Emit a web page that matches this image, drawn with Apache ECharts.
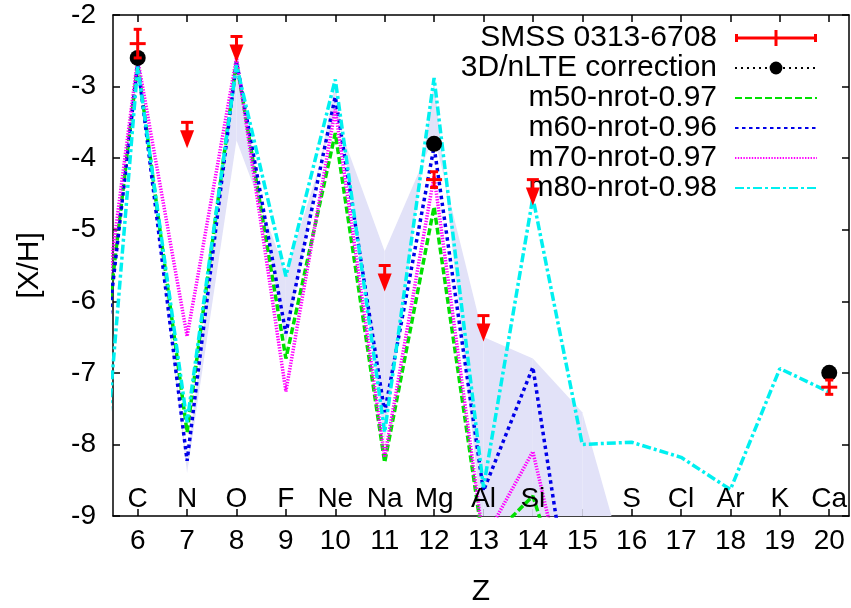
<!DOCTYPE html>
<html>
<head>
<meta charset="utf-8">
<script src="https://cdn.jsdelivr.net/npm/echarts@6/dist/echarts.min.js"></script>
<style>
html, body { margin: 0; padding: 0; background: #fff; }
#chart { width: 851px; height: 608px; }
</style>
</head>
<body>
<div id="chart"></div>
<script>
// Tick positions (atomic number Z) and the element shown above each tick
const zTicks = [6, 7, 8, 9, 10, 11, 12, 13, 14, 15, 16, 17, 18, 19, 20];
const elements = ['C', 'N', 'O', 'F', 'Ne', 'Na', 'Mg', 'Al', 'Si', '', 'S', 'Cl', 'Ar', 'K', 'Ca'];

// Model yields [X/H] per atomic number
const modelZ = [5, 6, 7, 8, 9, 10, 11, 12, 13, 14, 15];
const m50 = [-8.62, -2.68, -7.83, -2.65, -6.80, -3.65, -8.25, -4.68, -9.41, -8.72, -10.9];
const m60 = [-8.80, -2.68, -8.23, -2.65, -6.45, -3.14, -7.55, -3.84, -8.65, -6.92, -11.37];
const m70 = [-7.94, -2.62, -6.49, -2.60, -7.26, -3.32, -8.18, -4.25, -9.35, -8.10, -11.06];
const m80Z = [5, 6, 7, 8, 9, 10, 11, 12, 13, 14, 15, 16, 17, 18, 19, 20];
const m80 = [-11.1, -2.72, -7.69, -2.70, -5.65, -2.90, -7.83, -2.88, -8.60, -4.55, -8.00, -7.97, -8.18, -8.63, -6.94, -7.27];

// Shaded band between two bounding curves
const bandZ = [5, 6, 7, 8, 9, 10, 11, 12, 13, 14, 15, 16];
const bandA = [-8.70, -2.65, -8.25, -2.60, -6.60, -2.95, -7.95, -2.90, -9.30, -10.0, -11.0, -12.0];
const bandB = [-8.70, -2.70, -8.40, -3.75, -5.60, -3.40, -5.30, -3.70, -6.50, -6.80, -7.55, -10.0];

// SMSS 0313-6708 abundances: value, error, upper-limit flag
const obsZ = [6, 7, 8, 11, 12, 13, 14, 20];
const obsVal = [-2.40, -3.50, -2.30, -5.50, -4.30, -6.20, -4.30, -7.20];
const obsErr = [0.20, 0, 0, 0, 0.11, 0, 0, 0.10];
const obsLimit = [0, 1, 1, 1, 0, 1, 1, 0];

// 3D/nLTE corrected values
const corrZ = [6, 12, 20];
const corrVal = [-2.60, -3.80, -7.00];

const FONT = '"Liberation Sans", Arial, Helvetica, sans-serif';
const RED = '#ff0000';

const pairs = (xs, ys) => xs.map((x, i) => [x, ys[i]]);

const bandData = bandZ.slice(0, -1).map((z, i) => [z, bandA[i], bandB[i], bandZ[i + 1], bandA[i + 1], bandB[i + 1]]);
const obsData = obsZ.map((z, i) => [z, obsVal[i], obsErr[i], obsLimit[i]]);
const corrData = [];
corrZ.forEach((z, i) => { corrData.push([z, corrVal[i]]); corrData.push([z, null]); });

function renderBand(params, api) {
  const p1 = api.coord([api.value(0), api.value(1)]);
  const p2 = api.coord([api.value(3), api.value(4)]);
  const p3 = api.coord([api.value(3), api.value(5)]);
  const p4 = api.coord([api.value(0), api.value(2)]);
  return {
    type: 'polygon',
    shape: { points: [p1, p2, p3, p4] },
    style: { fill: '#e2e2f8', stroke: null }
  };
}

function renderObs(params, api) {
  const z = api.value(0), v = api.value(1), e = api.value(2), lim = api.value(3);
  const p = api.coord([z, v]);
  const x = p[0], y = p[1];
  if (lim) {
    return {
      type: 'group',
      children: [
        { type: 'rect', shape: { x: x - 6, y: y - 1.5, width: 12, height: 3 }, style: { fill: RED } },
        { type: 'rect', shape: { x: x - 1.5, y: y, width: 3, height: 12 }, style: { fill: RED } },
        { type: 'polygon', shape: { points: [[x - 7, y + 8], [x + 7, y + 8], [x, y + 26]] }, style: { fill: RED } }
      ]
    };
  }
  const top = api.coord([z, v + e])[1];
  const bot = api.coord([z, v - e])[1];
  const ln = (x1, y1, x2, y2) => ({ type: 'line', shape: { x1, y1, x2, y2 }, style: { stroke: RED, lineWidth: 3 } });
  return {
    type: 'group',
    children: [
      ln(x, top, x, bot),
      ln(x - 4, top, x + 4, top),
      ln(x - 4, bot, x + 4, bot),
      ln(x - 8, y, x + 8, y)
    ]
  };
}

const axisLineStyle = { color: '#000', width: 1.5 };
const xBase = { type: 'value', min: 5.5, max: 20.4, splitLine: { show: false } };
const yBase = { type: 'value', min: -9, max: -2, interval: 1, splitLine: { show: false } };

const modelLine = (name, z, vals, color, dash, zlevel) => ({
  name, type: 'line', data: pairs(z, vals), symbol: 'none', clip: true, z: zlevel,
  lineStyle: { color, width: 3.5, type: dash, cap: 'butt' },
  itemStyle: { color }
});

const chart = echarts.init(document.getElementById('chart'), null, { renderer: 'canvas' });
chart.setOption({
  animation: false,
  backgroundColor: '#fff',
  textStyle: { fontFamily: FONT },
  grid: { left: 113, right: 2, top: 15, bottom: 92, containLabel: false, outerBoundsMode: 'none' },
  legend: {
    orient: 'vertical', right: 28, top: 18, align: 'right',
    itemWidth: 82, itemHeight: 16, itemGap: 0,
    textStyle: { fontSize: 30, color: '#000', fontFamily: FONT, lineHeight: 30, padding: [0, 13, 0, 0] },
    data: [
      { name: 'SMSS 0313-6708', icon: 'path://M0,4h3v8h-3zM79,4h3v8h-3zM0,6.5h82v3h-82zM39.5,0h3v16h-3z' },
      { name: '3D/nLTE correction' },
      { name: 'm50-nrot-0.97', itemStyle: { opacity: 0 } },
      { name: 'm60-nrot-0.96', itemStyle: { opacity: 0 } },
      { name: 'm70-nrot-0.97', itemStyle: { opacity: 0 } },
      { name: 'm80-nrot-0.98', itemStyle: { opacity: 0 } }
    ]
  },
  xAxis: [
    Object.assign({}, xBase, {
      position: 'bottom',
      axisLine: { lineStyle: axisLineStyle },
      axisTick: { inside: true, length: 7, customValues: zTicks, lineStyle: axisLineStyle },
      axisLabel: { customValues: zTicks, fontSize: 28, color: '#000', margin: 11, fontFamily: FONT },
      name: 'Z', nameLocation: 'middle', nameGap: 61,
      nameTextStyle: { fontSize: 30, color: '#000', fontFamily: FONT }
    }),
    Object.assign({}, xBase, {
      position: 'top',
      axisLine: { lineStyle: axisLineStyle },
      axisTick: { inside: true, length: 7, customValues: zTicks, lineStyle: axisLineStyle },
      axisLabel: { show: false }
    }),
    Object.assign({}, xBase, {
      position: 'bottom', z: 20,
      axisLine: { show: false },
      axisTick: { show: false },
      axisLabel: {
        inside: true, customValues: zTicks, fontSize: 28, color: '#000', margin: 3, fontFamily: FONT,
        formatter: v => elements[zTicks.indexOf(Math.round(v))] || ''
      }
    })
  ],
  yAxis: [
    Object.assign({}, yBase, {
      position: 'left',
      axisLine: { show: true, lineStyle: axisLineStyle },
      axisTick: { inside: true, length: 7, lineStyle: axisLineStyle },
      axisLabel: { fontSize: 28, color: '#000', margin: 17, fontFamily: FONT },
      name: '[X/H]', nameLocation: 'middle', nameGap: 68, nameRotate: 90,
      nameTextStyle: { fontSize: 30, color: '#000', fontFamily: FONT }
    }),
    Object.assign({}, yBase, {
      position: 'right',
      axisLine: { show: true, lineStyle: axisLineStyle },
      axisTick: { inside: true, length: 7, lineStyle: axisLineStyle },
      axisLabel: { show: false }
    })
  ],
  series: [
    {
      name: 'band', type: 'custom', renderItem: renderBand, data: bandData, clip: true, silent: true, z: 1,
      encode: { x: [0, 3], y: [1, 2, 4, 5] }
    },
    modelLine('m50-nrot-0.97', modelZ, m50, '#00e000', [7, 3], 3),
    modelLine('m60-nrot-0.96', modelZ, m60, '#0000e8', [3.5, 3.5], 4),
    modelLine('m70-nrot-0.97', modelZ, m70, '#ff00ff', [1.4, 1.4], 5),
    modelLine('m80-nrot-0.98', m80Z, m80, '#00f0f0', [9, 3, 3, 3], 6),
    {
      name: 'SMSS 0313-6708', type: 'custom', renderItem: renderObs, data: obsData, z: 8,
      itemStyle: { color: RED }, encode: { x: 0, y: 1 }
    },
    {
      name: '3D/nLTE correction', type: 'line', data: corrData, z: 7,
      symbol: 'circle', symbolSize: 16, showSymbol: true, connectNulls: false,
      lineStyle: { color: '#000', width: 2, type: [2, 4] },
      itemStyle: { color: '#000' }
    }
  ]
});
</script>
</body>
</html>
